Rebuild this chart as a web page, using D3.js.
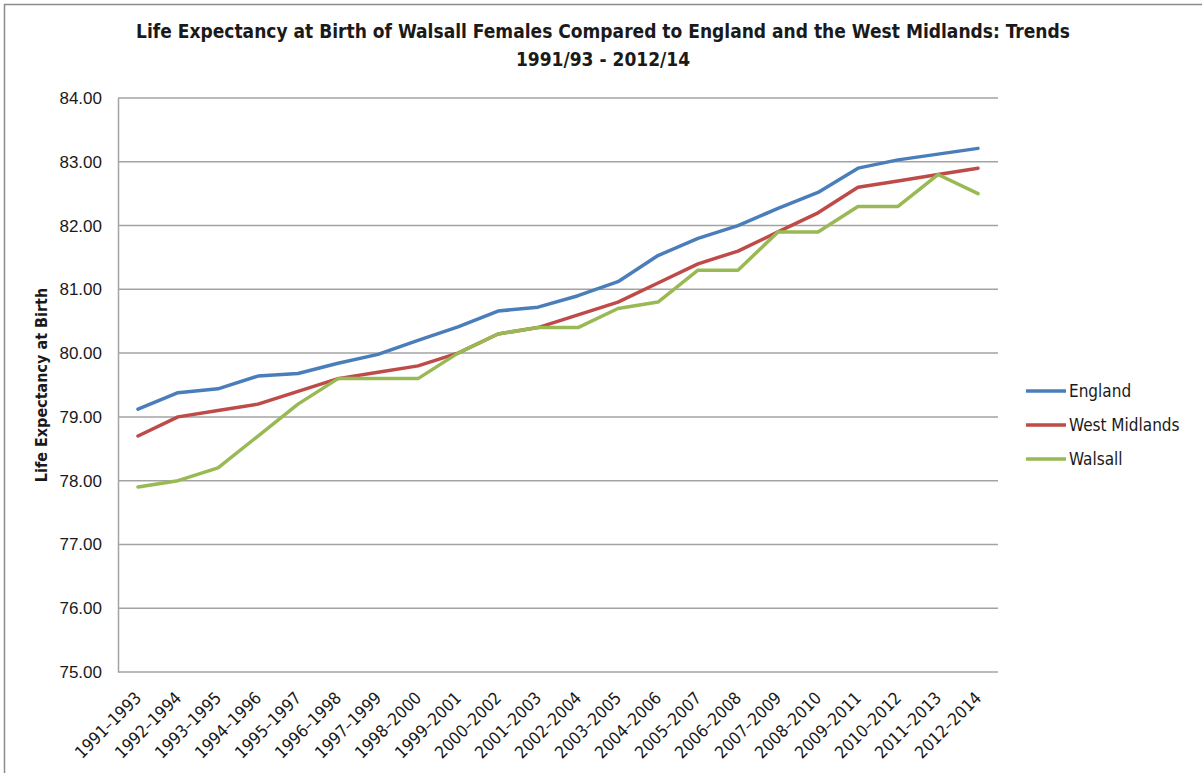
<!DOCTYPE html>
<html>
<head>
<meta charset="utf-8">
<script src="https://cdn.jsdelivr.net/npm/d3@7"></script>
<style>
    body { margin: 0; background: #ffffff; }
    svg text { font-family: "Liberation Sans Narrow", "Arial Narrow", "DejaVu Sans Condensed", sans-serif; fill: #1a1a1a; }
</style>
</head>
<body>
<svg id="chart-svg"></svg>
<script>
'use strict';

//------------------------------------------------------------
// chart data
//------------------------------------------------------------
const periods = ["1991–1993", "1992–1994", "1993–1995", "1994–1996", "1995–1997", "1996–1998",
                 "1997–1999", "1998–2000", "1999–2001", "2000–2002", "2001–2003", "2002–2004",
                 "2003–2005", "2004–2006", "2005–2007", "2006–2008", "2007–2009", "2008–2010",
                 "2009–2011", "2010–2012", "2011–2013", "2012–2014"];

const englandValues      = [79.12, 79.38, 79.44, 79.64, 79.68, 79.84, 79.98, 80.20, 80.41, 80.66, 80.72,
                            80.90, 81.12, 81.53, 81.80, 82.00, 82.27, 82.52, 82.90, 83.03, 83.12, 83.21];
const westMidlandsValues = [78.7, 79.0, 79.1, 79.2, 79.4, 79.6, 79.7, 79.8, 80.0, 80.3, 80.4,
                            80.6, 80.8, 81.1, 81.4, 81.6, 81.9, 82.2, 82.6, 82.7, 82.8, 82.9];
const walsallValues      = [77.9, 78.0, 78.2, 78.7, 79.2, 79.6, 79.6, 79.6, 80.0, 80.3, 80.4,
                            80.4, 80.7, 80.8, 81.3, 81.3, 81.9, 81.9, 82.3, 82.3, 82.8, 82.5];

const seriesNames  = ["England", "West Midlands", "Walsall"];
const seriesColors = ["#4a7ebb", "#be4b48", "#98b954"];
const yTickValues  = [75, 76, 77, 78, 79, 80, 81, 82, 83, 84];

const titleLines = ["Life Expectancy at Birth of Walsall Females Compared to England and the West Midlands: Trends",
                    "1991/93 - 2012/14"];
const yAxisTitle = "Life Expectancy at Birth";

//------------------------------------------------------------
// plot
//------------------------------------------------------------
const width = 1202;
const height = 773;
const plot = { left: 118, right: 998, top: 98, bottom: 672 };

const svg = d3.select("#chart-svg")
    .attr("width", width)
    .attr("height", height);

// outer chart frame (runs off the right / bottom of the picture)
svg.append("rect")
    .attr("x", 4.5).attr("y", 4.5)
    .attr("width", width + 20).attr("height", height + 20)
    .attr("fill", "none")
    .attr("stroke", "#8c8c8c")
    .attr("stroke-width", 1.5);

const x = d3.scalePoint()
    .domain(periods)
    .range([plot.left, plot.right])
    .padding(0.5);

const y = d3.scaleLinear()
    .domain([75, 84])
    .range([plot.bottom, plot.top]);

// gridlines
svg.append("g")
    .selectAll("line")
    .data(yTickValues)
    .join("line")
    .attr("x1", plot.left).attr("x2", plot.right)
    .attr("y1", d => y(d)).attr("y2", d => y(d))
    .attr("stroke", "#a3a3a3")
    .attr("stroke-width", 1.5);

// y axis
const yAxis = svg.append("g")
    .attr("transform", `translate(${plot.left},0)`)
    .call(d3.axisLeft(y).tickValues(yTickValues).tickFormat(d3.format(".2f")).tickSize(0).tickPadding(16));
yAxis.select(".domain").attr("stroke", "#a3a3a3").attr("stroke-width", 1.5);
yAxis.selectAll("text")
    .attr("font-size", 17)
    .style("font-family", "\"Liberation Sans Narrow\", sans-serif");

// x axis
const xAxis = svg.append("g")
    .attr("transform", `translate(0,${plot.bottom})`)
    .call(d3.axisBottom(x).tickSize(0).tickPadding(0));
xAxis.select(".domain").remove();
xAxis.selectAll("text")
    .attr("font-size", 17)
    .attr("text-anchor", "end")
    .attr("dy", 0)
    .attr("y", 0)
    .attr("transform", "translate(4,27) rotate(-45)");

// lines
const allSeries = [englandValues, westMidlandsValues, walsallValues];
const lineGen = d3.line()
    .x((d, i) => x(periods[i]))
    .y(d => y(d));

svg.append("g")
    .selectAll("path")
    .data(allSeries)
    .join("path")
    .attr("d", lineGen)
    .attr("fill", "none")
    .attr("stroke", (d, i) => seriesColors[i])
    .attr("stroke-width", 3.5)
    .attr("stroke-linejoin", "round")
    .attr("stroke-linecap", "round");

// title
svg.append("g")
    .selectAll("text")
    .data(titleLines)
    .join("text")
    .attr("x", 603)
    .attr("y", (d, i) => 38 + i * 28)
    .attr("text-anchor", "middle")
    .attr("font-size", 19)
    .attr("font-weight", "bold")
    .text(d => d);

// y axis title
svg.append("text")
    .attr("transform", "translate(47,385) rotate(-90)")
    .attr("text-anchor", "middle")
    .attr("font-size", 16)
    .attr("font-weight", "bold")
    .text(yAxisTitle);

// legend
const legend = svg.append("g")
    .selectAll("g")
    .data(seriesNames)
    .join("g")
    .attr("transform", (d, i) => `translate(1026,${391 + i * 34})`);

legend.append("line")
    .attr("x1", 0).attr("x2", 40)
    .attr("stroke", (d, i) => seriesColors[i])
    .attr("stroke-width", 3.5);

legend.append("text")
    .attr("x", 43)
    .attr("dy", "0.35em")
    .attr("font-size", 17)
    .text(d => d);
</script>
</body>
</html>
